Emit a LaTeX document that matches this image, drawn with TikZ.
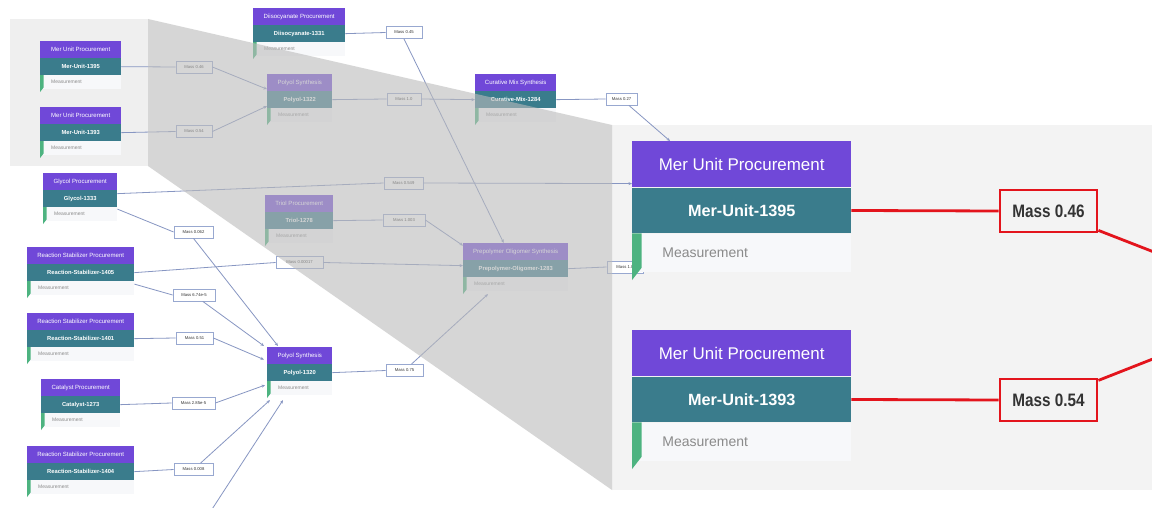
\documentclass[tikz,border=0pt]{standalone}
\usepackage{graphicx}
\usepackage{fontspec}
\setmainfont{Liberation Sans}
\usetikzlibrary{arrows.meta,calc}
\definecolor{hdr}{HTML}{7048D8}
\definecolor{tealc}{HTML}{3A7C8C}
\definecolor{grn}{HTML}{4DB380}
\definecolor{measbg}{HTML}{F7F8FA}
\definecolor{meastxt}{HTML}{8A8A8A}
\definecolor{edgec}{HTML}{8796C2}
\definecolor{lblbd}{HTML}{98A8D0}
\definecolor{redc}{HTML}{E3141C}
\definecolor{panelc}{HTML}{F3F3F3}
\definecolor{insetc}{HTML}{EFEFEF}
\definecolor{ovl}{HTML}{BBBBBB}
\tikzset{
 hdrbox/.style={fill=hdr, text=white, inner sep=0pt, anchor=north west},
 idbox/.style={fill=tealc, text=white, inner sep=0pt, anchor=north west},
 measbox/.style={fill=measbg, text=meastxt, inner ysep=0pt, anchor=north west, align=left},
 mlabel/.style={draw=lblbd, line width=0.8pt, fill=white, text=black!80, inner sep=0pt, minimum height=12pt, font=\fontsize{4.2pt}{4.2pt}\selectfont},
 conn/.style={draw=edgec, line width=0.8pt},
 arr/.style={conn, -{Stealth[length=3.5pt,width=3pt]}},
 redlbl/.style={draw=redc, line width=2.8pt, fill=panelc, text=black!80, inner sep=0pt, minimum width=97pt, minimum height=42pt, font=\fontsize{18pt}{18pt}\selectfont\bfseries},
 redln/.style={draw=redc, line width=2.8pt},
}
\newcommand\flownode[8]{%
 \pgfmathsetmacro\hh{16.8*#5}%
 \pgfmathsetmacro\th{16.5*#5}%
 \pgfmathsetmacro\mh{14*#5}%
 \pgfmathsetmacro\hf{6.05*#6}%
 \pgfmathsetmacro\tf{5.8*#6}%
 \pgfmathsetmacro\mf{5*#6}%
 \pgfmathsetmacro\pd{11*#5}%
 \pgfmathsetmacro\tw{#4-2*\pd}%
 \pgfmathsetmacro\gw{3.5*#5}%
 \pgfmathsetmacro\ga{12.5*#5}%
 \pgfmathsetmacro\gb{4.5*#5}%
 \node[hdrbox, minimum width=#4pt, minimum height=\hh pt, font=\fontsize{\hf pt}{\hf pt}\selectfont] (#1-h) at (#2,#3) {#7};
 \node[idbox, minimum width=#4pt, minimum height=\th pt, font=\fontsize{\tf pt}{\tf pt}\selectfont\bfseries] (#1) at (#1-h.south west) {#8};
 \node[measbox, text width=\tw pt, inner xsep=\pd pt, minimum height=\mh pt, font=\fontsize{\mf pt}{\mf pt}\selectfont] (#1-m) at (#1.south west) {Measurement};
 \fill[grn] (#1.south west) -- ++(\gw,0) -- ++(0,\ga) -- ++(-\gw,\gb) -- cycle;
}
\begin{document}
\begin{tikzpicture}[x=1pt,y=-1pt]
\useasboundingbox (0,0) rectangle (1152,508);
\clip (0,0) rectangle (1152,508);
\fill[white] (0,0) rectangle (1152,508);
% inset (source region) and magnified panel
\fill[insetc] (10,19) rectangle (148,166);
\fill[panelc] (612,125) rectangle (1152,490);
% label partly hidden by the magnified node
\node[mlabel, minimum width=36pt] (L15) at (625,267) {Mass 1.0};
% magnified nodes
\flownode{N1}{632}{141}{219}{2.75}{2.8}{Mer Unit Procurement}{Mer-Unit-1395}
\flownode{N2}{632}{330}{219}{2.75}{2.8}{Mer Unit Procurement}{Mer-Unit-1393}
% small nodes
\flownode{A}{40}{41}{81}{1}{1}{Mer Unit Procurement}{Mer-Unit-1395}
\flownode{B}{40}{107}{81}{1}{1}{Mer Unit Procurement}{Mer-Unit-1393}
\flownode{C}{253}{8}{92}{1}{1}{Diisocyanate Procurement}{Diisocyanate-1331}
\flownode{D}{267}{74}{65}{1}{1}{Polyol Synthesis}{Polyol-1322}
\flownode{E}{475}{74}{81}{1}{1}{Curative Mix Synthesis}{Curative-Mix-1284}
\flownode{F}{43}{173}{74}{1}{1}{Glycol Procurement}{Glycol-1333}
\flownode{G}{265}{195}{68}{1}{1}{Triol Procurement}{Triol-1278}
\flownode{H}{27}{247}{107}{1}{1}{Reaction Stabilizer Procurement}{Reaction-Stabilizer-1405}
\flownode{I}{27}{313}{107}{1}{1}{Reaction Stabilizer Procurement}{Reaction-Stabilizer-1401}
\flownode{J}{41}{379}{79}{1}{1}{Catalyst Procurement}{Catalyst-1273}
\flownode{K}{27}{446}{107}{1}{1}{Reaction Stabilizer Procurement}{Reaction-Stabilizer-1404}
\flownode{L}{267}{347}{65}{1}{1}{Polyol Synthesis}{Polyol-1320}
\flownode{M}{463}{243}{105}{1}{1}{Prepolymer Oligomer Synthesis}{Prepolymer-Oligomer-1283}
% small labels
\node[mlabel, minimum width=36pt] (L1) at (194,67) {Mass 0.46};
\node[mlabel, minimum width=36pt] (L2) at (194,131.5) {Mass 0.54};
\node[mlabel, minimum width=36pt] (L3) at (404,32.5) {Mass 0.45};
\node[mlabel, minimum width=34pt] (L4) at (404,99) {Mass 1.0};
\node[mlabel, minimum width=31pt] (L5) at (621.5,99) {Mass 0.27};
\node[mlabel, minimum width=39pt] (L6) at (403.5,183) {Mass 0.549};
\node[mlabel, minimum width=42pt] (L7) at (404,220) {Mass 1.003};
\node[mlabel, minimum width=47pt] (L8) at (299.5,262.5) {Mass 0.00017};
\node[mlabel, minimum width=39pt] (L9) at (193.5,232) {Mass 0.062};
\node[mlabel, minimum width=42pt] (L10) at (194,295) {Mass 6.74e-5};
\node[mlabel, minimum width=37pt] (L11) at (194.5,338) {Mass 0.51};
\node[mlabel, minimum width=43pt] (L12) at (193.5,403) {Mass 2.85e-5};
\node[mlabel, minimum width=39pt] (L13) at (193.5,469.5) {Mass 0.008};
\node[mlabel, minimum width=37pt] (L14) at (404.5,370.5) {Mass 0.75};
\coordinate (off) at (205,520);
% connectors
\draw[conn] (A.east) -- (L1.west);
\draw[arr] (L1.east) -- ($(D-h.south west)+(0,-2)$);
\draw[conn] (B.east) -- (L2.west);
\draw[arr] (L2.east) -- ($(D.south west)+(0,-2)$);
\draw[conn] (C.east) -- (L3.west);
\draw[arr] (L3.south) -- ($(M-h.north)+(-12,0)$);
\draw[conn] (D.east) -- (L4.west);
\draw[arr] (L4.east) -- (E.west);
\draw[conn] (E.east) -- (L5.west);
\draw[arr] (L5) -- ($(N1-h.north west)+(38,0)$);
\draw[conn] ($(F.east)+(0,-5)$) -- (L6.west);
\draw[arr] (L6.east) -- ($(N1-h.south west)+(0,-4)$);
\draw[conn] ($(F.south east)+(0,2)$) -- (L9.west);
\draw[arr] (L9.south) -- ($(L-h.north west)+(11,-1)$);
\draw[conn] (G.east) -- (L7.west);
\draw[arr] (L7.east) -- ($(M-h.west)+(0,-6)$);
\draw[conn] (H.east) -- (L8.west);
\draw[arr] (L8.east) -- ($(M.west)+(0,-3)$);
\draw[conn] ($(H.south east)+(0,3)$) -- (L10.west);
\draw[arr] (L10) -- ($(L-h.north west)+(-3,-1)$);
\draw[conn] (I.east) -- (L11.west);
\draw[arr] (L11.east) -- ($(L-h.west)+(-3,4)$);
\draw[conn] (J.east) -- (L12.west);
\draw[arr] (L12.east) -- ($(L.south west)+(-2,4)$);
\draw[conn] (K.east) -- (L13.west);
\draw[arr] (L13) -- ($(L.south west)+(3,19)$);
\draw[arr] (off) -- ($(L.south west)+(16,19)$);
\draw[conn] (L.east) -- (L14.west);
\draw[arr] (L14) -- ($(M.south west)+(25,17)$);
\draw[conn] (M.east) -- (L15.west);
% zoom overlay
\fill[ovl, opacity=0.6] (148,19) -- (612,125) -- (612,490) -- (148,166) -- cycle;
% magnified labels and red connectors
\node[redlbl] (R1) at (1048.5,211) {\scalebox{0.85}[1]{Mass 0.46}};
\node[redlbl] (R2) at (1048.5,400) {\scalebox{0.85}[1]{Mass 0.54}};
\coordinate (tgt) at (1290,305);
\draw[redln] (N1.east) -- (R1.west);
\draw[redln] (N2.east) -- (R2.west);
\draw[redln] (R1) -- (tgt);
\draw[redln] (R2) -- (tgt);
\end{tikzpicture}
\end{document}
